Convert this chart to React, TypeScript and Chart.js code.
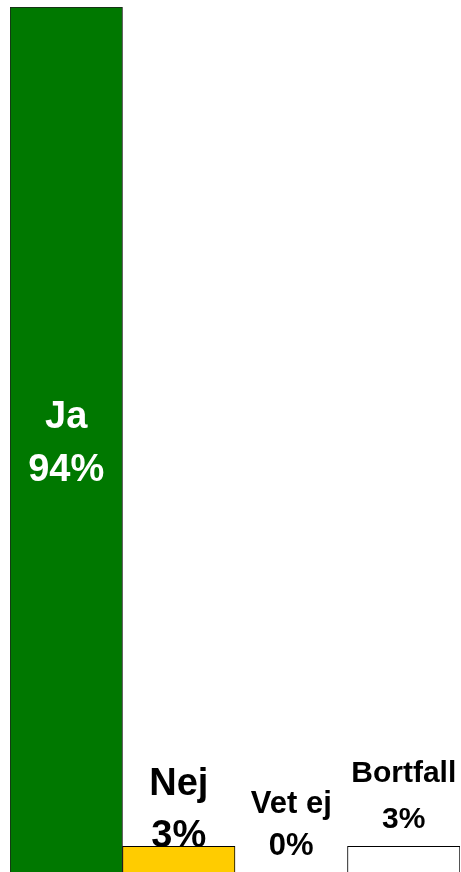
import React, { useEffect, useRef } from "react";
import { Chart, registerables } from "chart.js";

Chart.register(...registerables);

const categories = ["Ja", "Nej", "Vet ej", "Bortfall"];
const values = [94, 3, 0, 3];
const valueLabels = ["94%", "3%", "0%", "3%"];

const barColors = ["#007800", "#FFCC00", "#FFFFFF", "#FFFFFF"];
const barBorders = ["#1e1e1e", "#000000", "#000000", "#000000"];

// label styling: inside = centred in the bar; otherwise placed above the bar top
const labelStyles = [
  { inside: true, size: 38, color: "#FFFFFF", gap: 53, offset: 0 },
  { inside: false, size: 38, color: "#000000", gap: 52, offset: 1 },
  { inside: false, size: 31, color: "#000000", gap: 42, offset: -19 },
  { inside: false, size: 30, color: "#000000", gap: 46, offset: -18 },
];

const labelPlugin = {
  id: "barLabels",
  afterDatasetsDraw(chart: any) {
    const ctx = chart.ctx;
    const meta = chart.getDatasetMeta(0);
    meta.data.forEach((bar: any, i: number) => {
      const st = labelStyles[i];
      ctx.save();
      ctx.font = `bold ${st.size}px "Liberation Sans", Arial, sans-serif`;
      ctx.fillStyle = st.color;
      ctx.textAlign = "center";
      ctx.textBaseline = "alphabetic";
      const x = bar.x;
      let b2: number;
      if (st.inside) {
        const mid = (bar.y + bar.base) / 2;
        const capH = st.size * 0.716;
        const blockH = st.gap + capH;
        b2 = mid - blockH / 2 + capH + st.gap;
      } else {
        b2 = bar.y + st.offset;
      }
      ctx.fillText(categories[i], x, b2 - st.gap);
      ctx.fillText(valueLabels[i], x, b2);
      ctx.restore();
    });
  },
};

export default function App() {
  const ref = useRef<HTMLCanvasElement | null>(null);
  useEffect(() => {
    if (!ref.current) return;
    const chart = new Chart(ref.current, {
      type: "bar",
      data: {
        labels: categories,
        datasets: [
          {
            data: values,
            backgroundColor: barColors,
            borderColor: barBorders,
            borderWidth: 1,
            categoryPercentage: 1,
            barPercentage: 1,
          },
        ],
      },
      options: {
        animation: false,
        responsive: false,
        maintainAspectRatio: false,
        layout: { padding: { left: 10, top: 7, right: 1, bottom: 0 } },
        plugins: {
          legend: { display: false },
          tooltip: { enabled: false },
        },
        scales: {
          x: { display: false },
          y: { display: false, min: 0, max: 94 },
        },
      },
      plugins: [labelPlugin],
    });
    return () => chart.destroy();
  }, []);
  return (
    <div
      style={{
        position: "fixed",
        left: 0,
        top: 0,
        width: 461,
        height: 872,
        overflow: "hidden",
        background: "#fff",
      }}
    >
      <canvas ref={ref} width={461} height={874} style={{ display: "block" }} />
    </div>
  );
}
